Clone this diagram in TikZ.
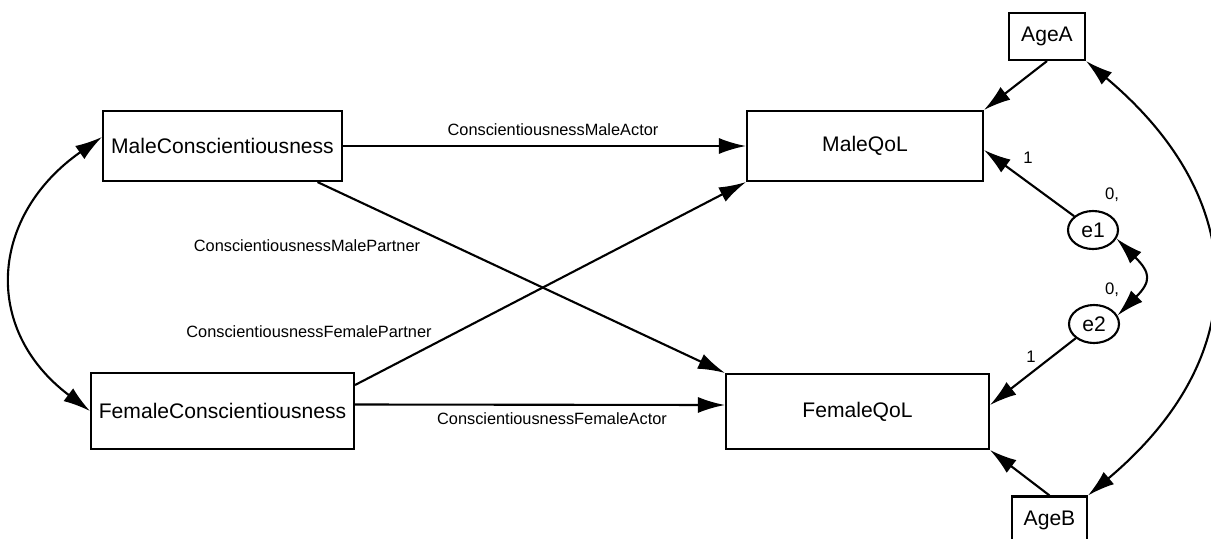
\documentclass[tikz,border=0pt]{standalone}
\usepackage{fontspec}
\setmainfont{Liberation Sans}
\usepackage{tikz}
\usetikzlibrary{arrows.meta,positioning,shapes.geometric}

\begin{document}
\begin{tikzpicture}[
  x=0.02cm, y=-0.02cm,
  font=\fontsize{12}{14}\selectfont,
  box/.style={draw, line width=1.2pt, inner sep=0pt, minimum height=1.4cm},
  err/.style={draw, ellipse, line width=1.2pt, inner sep=0pt,
              minimum width=1cm, minimum height=0.76cm},
  arr/.style={-{Latex[length=5.4mm,width=3.2mm]}, line width=1.2pt},
  darr/.style={{Latex[length=5.4mm,width=3.2mm]}-{Latex[length=5.4mm,width=3.2mm]}, line width=1.2pt},
  lbl/.style={font=\fontsize{9.3}{11}\selectfont},
  num/.style={font=\fontsize{9.5}{11}\selectfont}
]
\useasboundingbox (0,0) rectangle (1211,538);

\node[box, minimum width=4.78cm] (mcon) at (222.5,146) {MaleConscientiousness};
\node[box, minimum width=5.26cm, minimum height=1.52cm] (fcon) at (222.5,411) {FemaleConscientiousness};
\node[box, minimum width=4.72cm] (mqol) at (865,146) {MaleQoL};
\node[box, minimum width=5.26cm, minimum height=1.5cm] (fqol) at (857.5,411.5) {FemaleQoL};
\node[box, minimum width=1.52cm, minimum height=0.94cm] (agea) at (1047,36.5) {AgeA};
\node[box, minimum width=1.5cm, minimum height=0.94cm] (ageb) at (1049.5,520) {AgeB};
\node[err] (e1) at (1093,230) {e1};
\node[err] (e2) at (1094,324) {e2};

\draw[arr] (mcon) -- (mqol);
\draw[arr] ([yshift=0.13cm]fcon.east) -- ([yshift=0.13cm]fqol.west);
\draw[arr] ([xshift=1.9cm]mcon.south) -- (fqol.north west);
\draw[arr] ([yshift=0.52cm]fcon.east) -- (mqol.south west);
\draw[arr] (agea.south) -- (mqol.north east);
\draw[arr] (e1) -- ([yshift=-0.08cm]mqol.east);
\draw[arr] (e2) -- ([yshift=0.13cm]fqol.east);
\draw[arr] (ageb.north) -- (fqol.south east);

% covariances
\draw[darr] ([yshift=0.18cm]mcon.west) to[out=215, in=143, looseness=1.27] (fcon.west);
\draw[darr] (agea.south east) to[out=-40, in=40, looseness=1.27] (ageb.north east);
\draw[darr] (e1.-20) to[out=-45, in=45, looseness=1.6] (e2.20);

\node[lbl] (lma) at (553,130) {ConscientiousnessMaleActor};
\node[lbl] (lmp) at (307,246) {ConscientiousnessMalePartner};
\node[lbl] (lfp) at (309,332) {ConscientiousnessFemalePartner};
\node[lbl] (lfa) at (552,419) {ConscientiousnessFemaleActor};
\node[num] (one1) at (1028,158) {1};
\node[num] (one2) at (1031,357) {1};
\node[num] (var1) at (1112,195) {0,};
\node[num] (var2) at (1112,290) {0,};
\end{tikzpicture}
\end{document}
